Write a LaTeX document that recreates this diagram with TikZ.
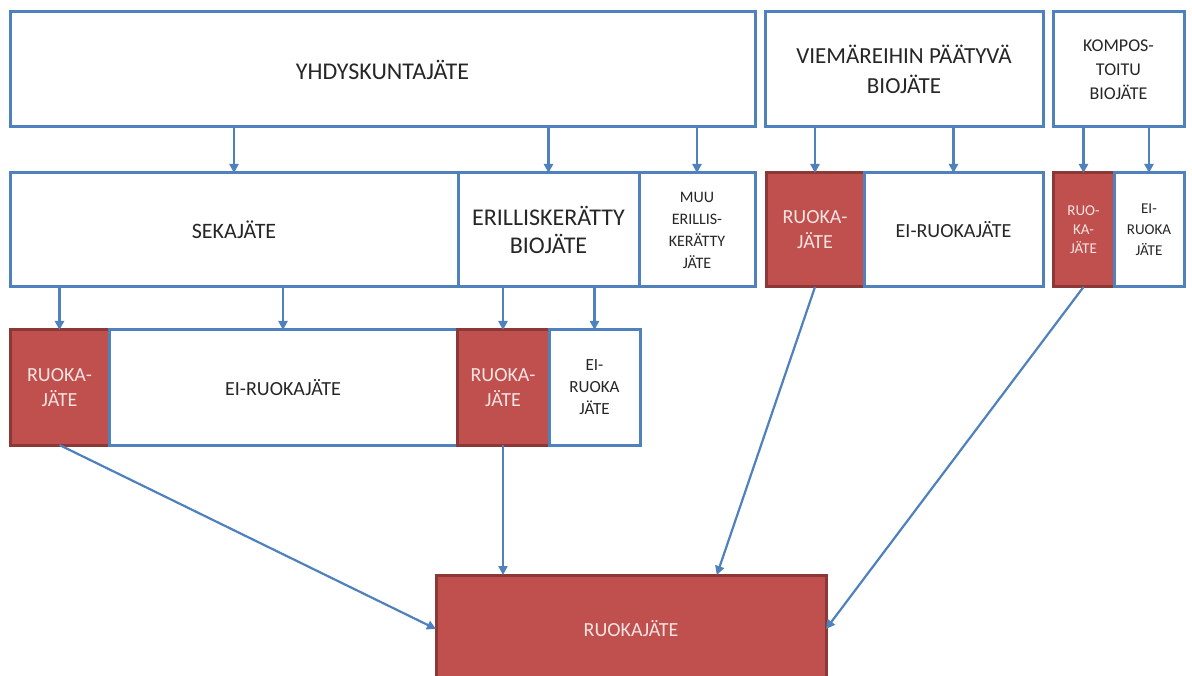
\documentclass[tikz,border=0pt]{standalone}
\usepackage{fontspec}
\setmainfont{Carlito}
\usetikzlibrary{positioning, calc, arrows.meta}
\definecolor{boxblue}{HTML}{4F81BD}
\definecolor{foodred}{HTML}{C0504D}
\definecolor{fooddark}{HTML}{8C3836}
\definecolor{foodtext}{HTML}{F6E4E3}
\newcommand{\fs}[2]{\fontsize{#1}{#2}\selectfont}

\begin{document}
\begin{tikzpicture}[x=1pt,y=-1pt,
  every node/.style={rectangle,align=center,outer sep=0pt,inner sep=2pt},
  box/.style={draw=boxblue,line width=3pt,fill=white,text=black!85},
  food/.style={draw=fooddark,line width=3pt,fill=foodred,text=foodtext},
  arr/.style={draw=boxblue,line width=2.2pt,-{Triangle[length=9pt,width=9pt]}}]
\fill[white](0,0) rectangle (1192,676);
\useasboundingbox(0,0) rectangle (1192,676);
\clip(0,0) rectangle (1192,676);
%
  \node(yhdys)[box,anchor=north west,minimum width=745pt,minimum height=115pt,font=\fs{24}{29}] at (10,12) {YHDYSKUNTAJÄTE};
  \node(viem)[box,anchor=north west,minimum width=278pt,minimum height=115pt,font=\fs{23}{30}] at (765,12) {VIEMÄREIHIN PÄÄTYVÄ\\BIOJÄTE};
  \node(kompos)[box,anchor=north west,minimum width=131pt,minimum height=115pt,font=\fs{18}{24}] at (1053,12) {KOMPOS-\\TOITU\\BIOJÄTE};
%
  \node(seka)[box,anchor=north west,minimum width=448pt,minimum height=114pt,font=\fs{22}{28}] at (10,173) {SEKAJÄTE};
  \node(erill)[box,right=0pt of seka,minimum width=181pt,minimum height=114pt,font=\fs{24}{28}]{ERILLISKERÄTTY\\BIOJÄTE};
  \node(muu)[box,right=0pt of erill,minimum width=116pt,minimum height=114pt,font=\fs{16}{22}]{MUU\\ERILLIS-\\KERÄTTY\\JÄTE};
%
  \node(viemfood)[food,anchor=north west,minimum width=98pt,minimum height=114pt,font=\fs{20}{25}] at (766,173) {RUOKA-\\JÄTE};
  \node(viemei)[box,right=0pt of viemfood,minimum width=179pt,minimum height=114pt,font=\fs{20}{25}]{EI-RUOKAJÄTE};
%
  \node(kompfood)[food,anchor=north west,minimum width=61pt,minimum height=114pt,font=\fs{15}{19}] at (1053,173) {RUO-\\KA-\\JÄTE};
  \node(kompei)[box,right=0pt of kompfood,minimum width=70pt,minimum height=114pt,font=\fs{15}{21}]{EI-\\RUOKA\\JÄTE};
%
  \node(sekafood)[food,anchor=north west,minimum width=99pt,minimum height=115pt,font=\fs{20}{25}] at (10,330) {RUOKA-\\JÄTE};
  \node(sekaei)[box,right=0pt of sekafood,minimum width=348pt,minimum height=115pt,font=\fs{20}{25}]{EI-RUOKAJÄTE};
  \node(erillfood)[food,right=0pt of sekaei,minimum width=92pt,minimum height=115pt,font=\fs{20}{25}]{RUOKA-\\JÄTE};
  \node(erillei)[box,right=0pt of erillfood,minimum width=91pt,minimum height=115pt,font=\fs{17}{22}]{EI-\\RUOKA\\JÄTE};
%
  \node(ruoka)[food,anchor=north west,minimum width=390pt,minimum height=108pt,font=\fs{20}{25}] at (436,575) {RUOKAJÄTE};
%
\draw[arr](yhdys.south -| seka.north)--(seka.north);
\draw[arr](yhdys.south -| erill.north)--(erill.north);
\draw[arr](yhdys.south -| muu.north)--(muu.north);
\draw[arr](viem.south -| viemfood.north)--(viemfood.north);
\draw[arr](viem.south -| viemei.north)--(viemei.north);
\draw[arr](kompos.south -| kompfood.north)--(kompfood.north);
\draw[arr](kompos.south -| kompei.north)--(kompei.north);
%
\draw[arr](seka.south -| sekafood.north)--(sekafood.north);
\draw[arr](seka.south -| sekaei.north)--(sekaei.north);
\draw[arr](erill.south -| erillfood.north)--(erillfood.north);
\draw[arr](erill.south -| erillei.north)--(erillei.north);
%
\draw[arr](sekafood.south)--(ruoka.west);
\draw[arr](erillfood.south)--(erillfood.south |- ruoka.north);
\draw[arr](viemfood.south)--($(ruoka.north west)!0.72!(ruoka.north east)$);
\draw[arr](kompfood.south)--(ruoka.east);
\end{tikzpicture}
\end{document}
